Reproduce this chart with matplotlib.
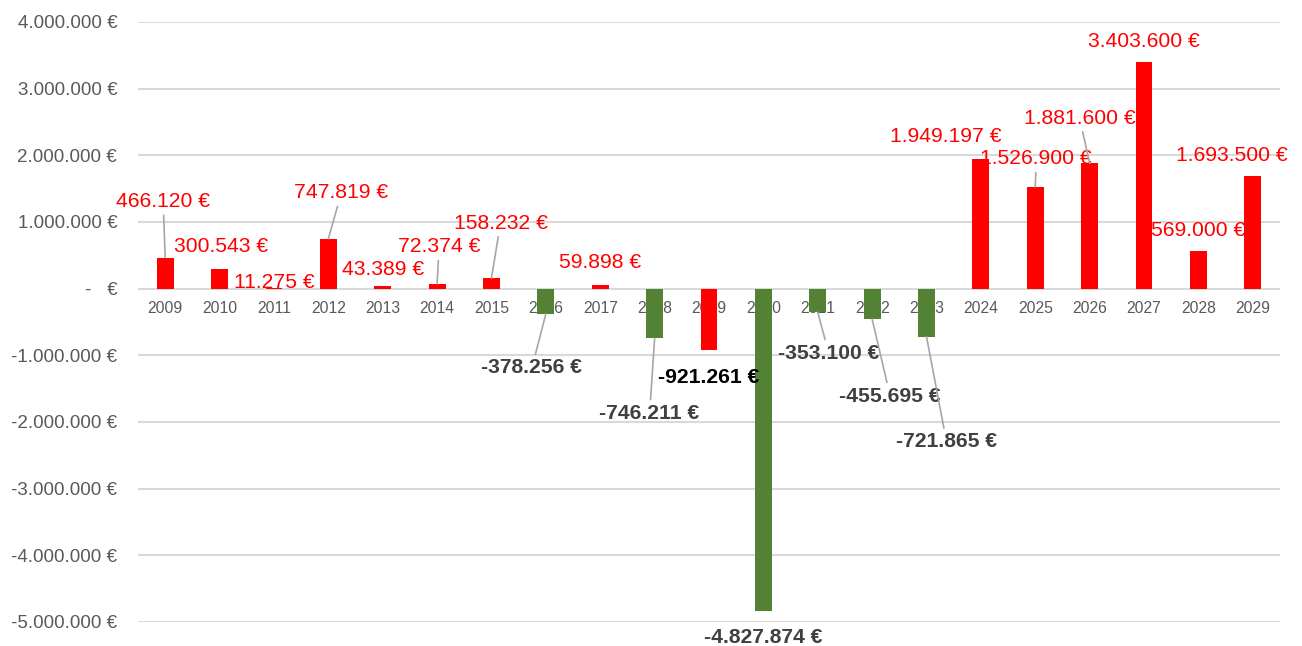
import matplotlib
matplotlib.use("Agg")
import matplotlib.pyplot as plt

plt.rcParams['font.family'] = ['Liberation Sans', 'DejaVu Sans']

# yearly result in EUR
years = [str(y) for y in range(2009, 2030)]
values = [466120, 300543, 11275, 747819, 43389, 72374, 158232, -378256, 59898,
          -746211, -921261, -4827874, -353100, -455695, -721865, 1949197,
          1526900, 1881600, 3403600, 569000, 1693500]
bar_colors = ['#ff0000'] * 7 + ['#548235', '#ff0000', '#548235', '#ff0000',
              '#548235', '#548235', '#548235', '#548235'] + ['#ff0000'] * 6
label_colors = ['#ff0000'] * 7 + ['#404040', '#ff0000', '#404040', '#000000',
                '#404040', '#404040', '#404040', '#404040'] + ['#ff0000'] * 6
y_ticks = list(range(-5000000, 4000001, 1000000))

# label offsets from bar end (pixels), and whether a leader line is drawn
label_offsets = [(-2, 56), (1, 22), (0, 5), (13, 46), (0, 16), (2, 37), (9, 55),
                 (-14, -54), (0, 22), (-5, -75), (0, -27), (0, -27), (11, -41),
                 (18, -77), (20, -105), (-35, 22), (1, 28), (-10, 45), (0, 20),
                 (0, 20), (-21, 20)]
leader = [1, 0, 0, 1, 0, 1, 1, 1, 0, 1, 0, 0, 1, 1, 1, 0, 1, 1, 0, 0, 0]


def eur(v):
    s = f"{abs(v):,}".replace(",", ".")
    return ("-" if v < 0 else "") + s + " €"


def tick_fmt(v):
    if v == 0:
        return "-   €"
    return eur(v)


fig = plt.figure(figsize=(13.02, 6.46), dpi=100)
ax = fig.add_axes([138 / 1302, 24 / 646, 1142 / 1302, 600 / 646])

x = list(range(len(years)))
ax.bar(x, values, width=0.31, color=bar_colors, zorder=2)

ax.set_xlim(-0.5, len(years) - 0.5)
ax.set_ylim(-5000000, 4000000)
ax.set_yticks(y_ticks)
ax.set_yticklabels([tick_fmt(v) for v in y_ticks])
ax.tick_params(axis='y', length=0, pad=15, labelsize=13.5, labelcolor='#595959')
ax.set_xticks([])
ax.grid(axis='y', color='#d9d9d9', linewidth=1.5, zorder=0)
ax.set_axisbelow(True)
for s in ax.spines.values():
    s.set_visible(False)

# year labels sit on the zero line, behind the bars
for i, yr in enumerate(years):
    ax.annotate(yr, xy=(i, 0), xytext=(0, -20), textcoords='offset pixels',
                ha='center', va='center', fontsize=11.3, color='#595959', zorder=1)

for i, v in enumerate(values):
    dx, dy = label_offsets[i]
    bold = v < 0
    arrow = dict(arrowstyle='-', color='#a6a6a6', lw=1.2, shrinkA=1, shrinkB=0) if leader[i] else None
    ax.annotate(eur(v), xy=(i, v), xytext=(dx, dy), textcoords='offset pixels',
                ha='center', va='center', fontsize=15.2, color=label_colors[i],
                fontweight='bold' if bold else 'normal', arrowprops=arrow, zorder=4)

fig.savefig("out.png", dpi=100)
